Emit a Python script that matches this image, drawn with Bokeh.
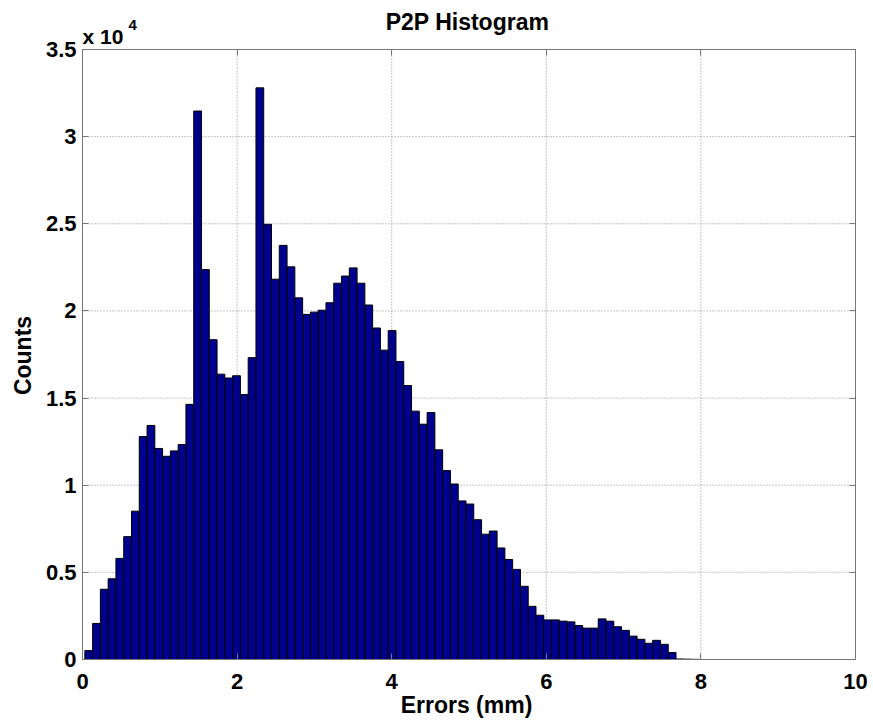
import numpy as np
from bokeh.plotting import figure
from bokeh.models import Range1d, FixedTicker, LinearAxis, Label, ColumnDataSource
from bokeh.embed import file_html
from bokeh.resources import INLINE

# ---- data (counts per bin) ----
counts = [510, 2070, 4030, 4630, 5800, 7050, 8510, 12790, 13430, 12110,
          11660, 11970, 12330, 14640, 31470, 22370, 18350, 16370, 16150, 16280,
          15200, 17320, 32800, 24970, 21820, 23760, 22530, 20750, 19800, 19930,
          20040, 20470, 21590, 22000, 22470, 21590, 20340, 19020, 17750, 18870,
          17100, 15720, 14250, 13500, 14170, 12030, 10840, 10070, 9100, 8920,
          8020, 7190, 7370, 6400, 5740, 5170, 4200, 3050, 2540, 2270,
          2270, 2200, 2160, 1950, 1800, 1800, 2330, 2200, 1880, 1670,
          1340, 1160, 930, 1100, 870, 400, 30, 20, 10]
err_min = 0.03
err_max = 7.98
x_ticks = [0, 2, 4, 6, 8, 10]
y_ticks = [0, 5000, 10000, 15000, 20000, 25000, 30000, 35000]
y_tick_labels = ["0", "0.5", "1", "1.5", "2", "2.5", "3", "3.5"]
title_text = "P2P Histogram"
x_label = "Errors (mm)"
y_label = "Counts"
exp_base = "x 10"
exp_power = "4"

# ---- layout (pixels of the 873x721 canvas) ----
W, H = 873, 721
PX_L, PX_R, PX_T, PX_B = 82, 855, 49, 659
X_LO, X_HI = 0, 10
Y_LO, Y_HI = 0, 35000

FONT = "Liberation Sans"
AX_COL = "#777777"
GRID_COL = "#8f8f8f"

sx = (PX_R - PX_L) / (X_HI - X_LO)
sy = (PX_B - PX_T) / (Y_HI - Y_LO)
x_range = Range1d(X_LO - PX_L / sx, X_HI + (W - PX_R) / sx)
y_range = Range1d(Y_LO - (H - PX_B) / sy, Y_HI + PX_T / sy)

edges = np.linspace(err_min, err_max, len(counts) + 1)
src = ColumnDataSource(dict(left=edges[:-1], right=edges[1:],
                            top=counts, bottom=[0] * len(counts)))

p = figure(width=W, height=H, output_backend="svg", toolbar_location=None,
           x_range=x_range, y_range=y_range,
           x_axis_type=None, y_axis_type=None,
           min_border=0, min_border_left=0, min_border_right=0,
           min_border_top=0, min_border_bottom=0)
p.background_fill_color = "white"
p.border_fill_color = "white"
p.outline_line_color = None

# dotted grid lines inside the axes box
gx = [t for t in x_ticks if X_LO < t < X_HI]
gy = [t for t in y_ticks if Y_LO < t < Y_HI]
p.segment(x0=gx, y0=[Y_LO] * len(gx), x1=gx, y1=[Y_HI] * len(gx),
          line_color=GRID_COL, line_dash="1 2", line_width=1)
p.segment(x0=[X_LO] * len(gy), y0=gy, x1=[X_HI] * len(gy), y1=gy,
          line_color=GRID_COL, line_dash="1 2", line_width=1)

p.quad(left="left", right="right", top="top", bottom="bottom", source=src,
       fill_color="#00008F", line_color="black", line_width=1)


def make_axis(loc, bounds, ticks, show_labels):
    ax = LinearAxis(fixed_location=loc, bounds=bounds, ticker=FixedTicker(ticks=ticks))
    ax.axis_line_color = AX_COL
    ax.axis_line_width = 1
    ax.major_tick_line_color = AX_COL
    ax.major_tick_in = 6
    ax.major_tick_out = 0
    ax.minor_tick_line_color = None
    ax.major_label_text_font = FONT
    ax.major_label_text_font_style = "bold"
    ax.major_label_text_font_size = "22px"
    if show_labels:
        ax.major_label_text_color = "black"
    else:
        ax.major_label_text_color = None
    return ax


bottom_ax = make_axis(Y_LO, (X_LO, X_HI), x_ticks, True)
bottom_ax.major_label_standoff = 14
p.add_layout(bottom_ax, "below")

left_ax = make_axis(X_LO, (Y_LO, Y_HI), y_ticks, True)
left_ax.major_label_standoff = 6
left_ax.major_label_overrides = {t: s for t, s in zip(y_ticks, y_tick_labels)}
p.add_layout(left_ax, "left")

top_ax = make_axis(Y_HI, (X_LO, X_HI), x_ticks, False)
p.add_layout(top_ax, "above")
right_ax = make_axis(X_HI, (Y_LO, Y_HI), y_ticks, False)
p.add_layout(right_ax, "right")


def label(x, y, text, size, **kw):
    # x, y in canvas pixels measured from the top-left corner (text centre line)
    p.add_layout(Label(x=x, y=H - y, x_units="screen", y_units="screen", text=text,
                       text_font=FONT, text_font_style="bold", text_font_size=size,
                       text_color="black", text_baseline="middle", **kw))


label(467, 21, title_text, "23px", text_align="center")
label(466, 704, x_label, "23px", text_align="center")
label(22, 355, y_label, "23px", angle=np.pi / 2, text_align="center")
label(82, 36, exp_base, "21px", text_align="left")
label(128, 24, exp_power, "15px", text_align="left")

open("out.html", "w").write(file_html(p, INLINE))
